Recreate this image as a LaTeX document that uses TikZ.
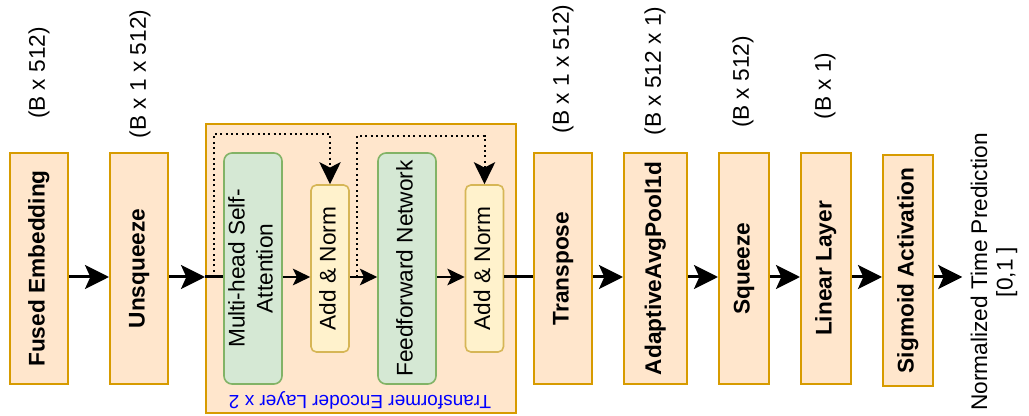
\documentclass[tikz,border=0pt]{standalone}
\usepackage{fontspec}
\setmainfont{Liberation Sans}
\usepackage{graphicx}
\usepackage{tikz}
\usetikzlibrary{arrows.meta}
\definecolor{opfill}{HTML}{FFE6CC}
\definecolor{opdraw}{HTML}{D79B00}
\definecolor{subfill}{HTML}{D5E8D4}
\definecolor{subdraw}{HTML}{82B366}
\definecolor{normfill}{HTML}{FFF2CC}
\definecolor{normdraw}{HTML}{D6B656}
\definecolor{encblue}{HTML}{0000FF}
\tikzset{every picture/.style={line width=0.75pt}}
% vertical (bottom-to-top) text inside the boxes
\newcommand{\vtext}[1]{\rotatebox{90}{\begin{tabular}{@{}c@{}}#1\end{tabular}}}

\begin{document}
\begin{tikzpicture}[x=0.75pt,y=0.75pt,yscale=-1,xscale=1,
	font=\fontsize{17}{21}\selectfont,
	opbox/.style={draw=opdraw,fill=opfill,line width=1.5pt,inner sep=0pt,minimum width=43.5pt,minimum height=173.25pt,font=\fontsize{17}{21}\selectfont\bfseries},
	subbox/.style={draw=subdraw,fill=subfill,line width=1.2pt,rounded corners=6pt,inner sep=0pt,minimum width=43.5pt,minimum height=173.25pt},
	normbox/.style={draw=normdraw,fill=normfill,line width=1.2pt,rounded corners=4pt,inner sep=0pt,minimum width=28.5pt,minimum height=125.25pt},
	dimlab/.style={rotate=90,inner sep=0pt},
	mainarrow/.style={line width=2.25pt,-{Stealth[length=18pt,width=18pt,inset=4pt]}},
	mainline/.style={line width=2.25pt},
	subarrow/.style={line width=1.5pt,-{Stealth[length=13pt,width=12.5pt,inset=3pt]}},
	resid/.style={line width=1.5pt,dash pattern=on 1.5pt off 2.5pt,-{Stealth[length=16.5pt,width=16pt,inset=4pt]}}]
	\useasboundingbox (0,0) rectangle (1029,416);

	%Encoder layer container
	\node [draw=opdraw,fill=opfill,line width=1.5pt,minimum width=232.5pt,minimum height=216.75pt] (enc) at (361,268.5) {};
	\node [text=encblue,font=\fontsize{14.25}{17}\selectfont,rotate=180] (enclab) at (360,400) {Transformer Encoder Layer x 2};

	%Blocks
	\node [opbox] (fused) at (39,268.5) {\vtext{Fused Embedding}};
	\node [opbox] (unsq) at (139,268.5) {\vtext{Unsqueeze}};
	\node [subbox] (mha) at (253,268.5) {\vtext{Multi-head Self-\\Attention}};
	\node [normbox] (an1) at (330,268.5) {\vtext{Add \& Norm}};
	\node [subbox] (ff) at (407,268.5) {\vtext{Feedforward Network}};
	\node [normbox] (an2) at (484.5,268.5) {\vtext{Add \& Norm}};
	\node [opbox] (trans) at (563,268.5) {\vtext{Transpose}};
	\node [opbox,minimum width=47.25pt] (pool) at (655.5,268.5) {\vtext{AdaptiveAvgPool1d}};
	\node [opbox,minimum width=37.5pt] (sq) at (744,268.5) {\vtext{Squeeze}};
	\node [opbox,minimum width=37.5pt] (lin) at (826,268.5) {\vtext{Linear Layer}};
	\node [opbox,minimum width=37.5pt] (sig) at (908,270.5) {\vtext{Sigmoid Activation}};
	\node [rotate=90,align=center,inner sep=0pt,font=\fontsize{17}{19}\selectfont] (out) at (994,272) {Normalized Time Prediction\\{[0,1 ]}};

	%Tensor shapes
	\node [dimlab] (dfused) at (39,73) {(B x 512)};
	\node [dimlab] (dunsq) at (140,74) {(B x 1 x 512)};
	\node [dimlab] (dtrans) at (563,69) {(B x 1 x 512)};
	\node [dimlab] (dpool) at (655,71) {(B x 512 x 1)};
	\node [dimlab] (dsq) at (743,82) {(B x 512)};
	\node [dimlab] (dlin) at (825,86) {(B x 1)};

	%Connectors
	\coordinate (lvl) at (0,277);
	\draw [mainarrow] (fused.east |- lvl) -- (unsq.west |- lvl);
	\draw [mainarrow] (unsq.east |- lvl) -- (enc.west |- lvl);
	\draw [mainline] (enc.west |- lvl) -- (mha.west |- lvl);
	\draw [subarrow] (mha.east |- lvl) -- (an1.west |- lvl);
	\draw [subarrow] (an1.east |- lvl) -- (ff.west |- lvl);
	\draw [subarrow] (ff.east |- lvl) -- (an2.west |- lvl);
	\draw [mainline] (an2.east |- lvl) -- (trans.west |- lvl);
	\draw [mainarrow] (trans.east |- lvl) -- (pool.west |- lvl);
	\draw [mainarrow] (pool.east |- lvl) -- (sq.west |- lvl);
	\draw [mainarrow] (sq.east |- lvl) -- (lin.west |- lvl);
	\draw [mainarrow] (lin.east |- lvl) -- (sig.west |- lvl);
	\draw [mainarrow,shorten >=6pt] (sig.east |- lvl) -- (out.north |- lvl);

	%Residual paths
	\coordinate (r1) at (214,134);
	\coordinate (r2) at (357,136);
	\draw [resid] (r1 |- lvl) -- (r1) -| (an1.north);
	\draw [resid] (r2 |- lvl) -- (r2) -| (an2.north);
\end{tikzpicture}
\end{document}
